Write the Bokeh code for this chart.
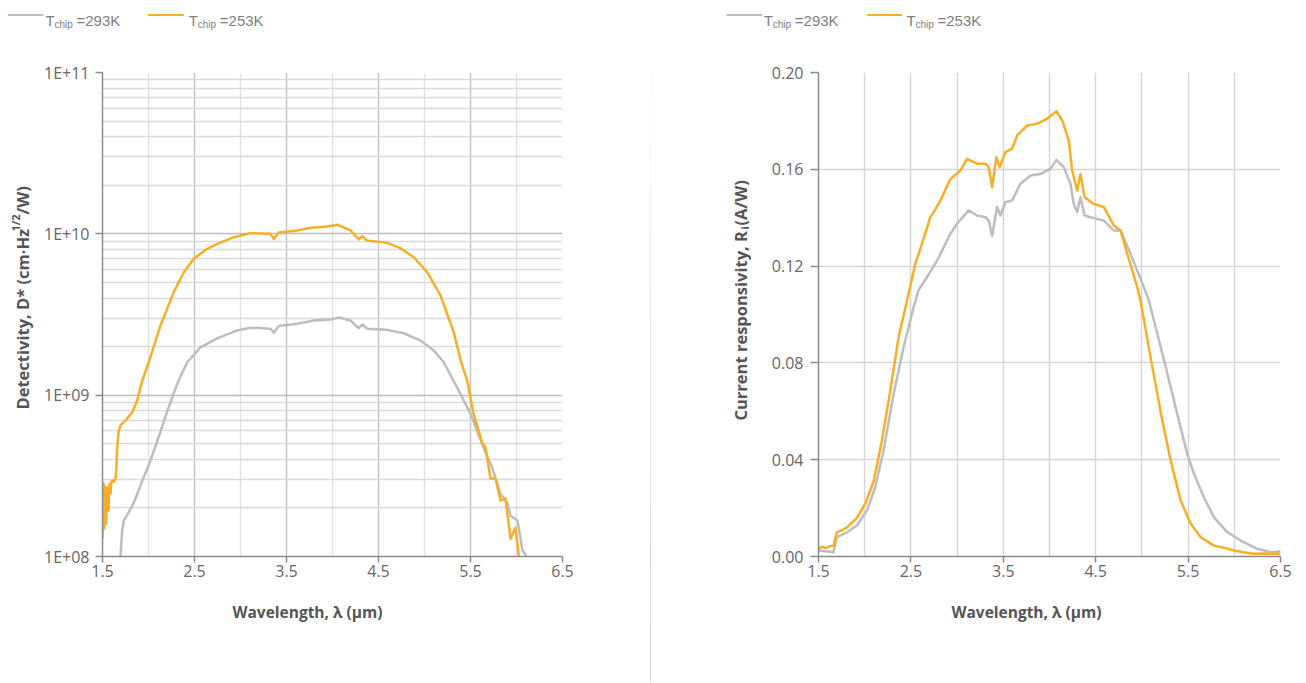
import math
from bokeh.plotting import figure
from bokeh.models import FixedTicker, Div, Range1d
from bokeh.layouts import row, column
from bokeh.embed import file_html
from bokeh.resources import INLINE
from bokeh.core.properties import value

# ---------------- data ----------------
x_ticks = [1.5, 2.5, 3.5, 4.5, 5.5, 6.5]
x_minor = [2.0, 3.0, 4.0, 5.0, 6.0]
d_ticks = [1e8, 1e9, 1e10, 1e11]
d_tick_labels = ["1E+08", "1E+09", "1E+10", "1E+11"]
r_ticks = [0.0, 0.04, 0.08, 0.12, 0.16, 0.20]
r_tick_labels = ["0.00", "0.04", "0.08", "0.12", "0.16", "0.20"]
series_names = ["=293K", "=253K"]
x_title = "Wavelength, λ (µm)"
d_title = ["Detectivity, D* (cm·Hz", "1/2", "/W)"]
r_title = ["Current responsivity, R", "i", " (A/W)"]

# Detectivity, T=293K
wl_d_293 = [1.690, 1.696, 1.714, 1.732, 1.783, 1.837, 1.891, 1.946, 2.022, 2.098, 2.207, 2.326,
            2.421, 2.565, 2.747, 2.964, 3.109, 3.326, 3.362, 3.416, 3.616, 3.797, 3.978, 4.068,
            4.196, 4.286, 4.323, 4.377, 4.595, 4.775, 4.957, 5.101, 5.210, 5.315, 5.500, 5.641,
            5.739, 5.826, 5.902, 5.935, 6.011, 6.065, 6.098, 6.110]
d_293 = [9.0e7, 1.01e8, 1.45e8, 1.67e8, 1.87e8, 2.13e8, 2.56e8, 3.09e8, 3.94e8, 5.24e8, 8.04e8, 1.23e9,
         1.60e9, 1.98e9, 2.25e9, 2.52e9, 2.62e9, 2.58e9, 2.44e9, 2.68e9, 2.77e9, 2.90e9, 2.94e9, 3.03e9,
         2.90e9, 2.60e9, 2.74e9, 2.58e9, 2.54e9, 2.42e9, 2.18e9, 1.89e9, 1.60e9, 1.23e9, 7.69e8, 4.74e8,
         3.51e8, 2.45e8, 2.13e8, 1.79e8, 1.67e8, 1.09e8, 1.03e8, 9.5e7]

# Detectivity, T=253K
wl_d_253 = [1.500, 1.505, 1.511, 1.516, 1.520, 1.527, 1.533, 1.540, 1.551, 1.558, 1.565, 1.575,
            1.587, 1.595, 1.605, 1.620, 1.641, 1.650, 1.660, 1.677, 1.696, 1.730, 1.768, 1.823,
            1.877, 1.932, 2.003, 2.130, 2.275, 2.384, 2.492, 2.638, 2.747, 2.927, 3.109, 3.326,
            3.362, 3.416, 3.616, 3.761, 3.942, 4.051, 4.196, 4.286, 4.323, 4.377, 4.595, 4.739,
            4.884, 5.029, 5.174, 5.318, 5.399, 5.464, 5.533, 5.630, 5.663, 5.717, 5.772, 5.826,
            5.880, 5.935, 5.989, 6.022, 6.030]
d_253 = [1.29e8, 2.6e8, 2.83e8, 1.7e8, 1.49e8, 2.7e8, 2.24e8, 1.6e8, 2.68e8, 2.2e8, 1.93e8, 2.8e8,
         2.45e8, 2.9e8, 2.96e8, 2.9e8, 3.04e8, 3.5e8, 4.74e8, 6.04e8, 6.49e8, 6.8e8, 7.16e8, 7.82e8,
         9.27e8, 1.23e9, 1.60e9, 2.70e9, 4.35e9, 5.78e9, 7.00e9, 8.07e9, 8.67e9, 9.53e9, 1.01e10, 1.00e10,
         9.31e9, 1.02e10, 1.05e10, 1.09e10, 1.11e10, 1.14e10, 1.05e10, 9.25e9, 9.66e9, 9.08e9, 8.79e9, 8.15e9,
         7.16e9, 5.78e9, 4.15e9, 2.45e9, 1.60e9, 1.23e9, 7.69e8, 5.01e8, 4.74e8, 3.04e8, 3.04e8, 2.22e8,
         2.29e8, 1.29e8, 1.51e8, 1.04e8, 8.0e7]

# Current responsivity, T=293K
wl_r_293 = [1.50, 1.58, 1.662, 1.699, 1.808, 1.916, 2.024, 2.114, 2.204, 2.313, 2.421, 2.529,
            2.583, 2.674, 2.783, 2.837, 2.927, 2.999, 3.125, 3.216, 3.306, 3.342, 3.379, 3.433,
            3.469, 3.523, 3.595, 3.685, 3.794, 3.902, 4.010, 4.075, 4.154, 4.227, 4.263, 4.300,
            4.335, 4.379, 4.444, 4.588, 4.696, 4.769, 4.877, 5.021, 5.075, 5.235, 5.400, 5.491,
            5.563, 5.671, 5.780, 5.925, 6.069, 6.250, 6.394, 6.502]
r_293 = [0.0025, 0.0022, 0.0018, 0.0080, 0.0100, 0.0128, 0.0190, 0.0286, 0.0438, 0.0672, 0.0865, 0.1030,
         0.1100, 0.1154, 0.1223, 0.1264, 0.1333, 0.1375, 0.1430, 0.1409, 0.1402, 0.1388, 0.1326, 0.1444,
         0.1409, 0.1464, 0.1471, 0.1540, 0.1574, 0.1581, 0.1602, 0.1639, 0.1609, 0.1540, 0.1457, 0.1423,
         0.1485, 0.1409, 0.1402, 0.1388, 0.1347, 0.1347, 0.1251, 0.1113, 0.1058, 0.0818, 0.0562, 0.0424,
         0.0342, 0.0245, 0.0162, 0.0100, 0.0066, 0.0032, 0.0018, 0.0022]

# Current responsivity, T=253K
wl_r_253 = [1.50, 1.54, 1.58, 1.62, 1.662, 1.699, 1.75, 1.808, 1.916, 2.006, 2.096, 2.187,
            2.277, 2.367, 2.458, 2.548, 2.620, 2.710, 2.746, 2.819, 2.927, 3.036, 3.108, 3.216,
            3.306, 3.342, 3.379, 3.425, 3.461, 3.523, 3.595, 3.650, 3.758, 3.866, 3.975, 4.075,
            4.137, 4.209, 4.245, 4.300, 4.335, 4.379, 4.479, 4.588, 4.696, 4.769, 4.841, 4.950,
            4.985, 5.09, 5.221, 5.311, 5.420, 5.528, 5.636, 5.780, 5.90, 5.996, 6.10, 6.213,
            6.35, 6.502]
r_253 = [0.0032, 0.0040, 0.0035, 0.0042, 0.0045, 0.0100, 0.0108, 0.0120, 0.0160, 0.0218, 0.0310, 0.0480,
         0.0686, 0.0906, 0.1058, 0.1210, 0.1292, 0.1402, 0.1423, 0.1471, 0.1560, 0.1595, 0.1643, 0.1623,
         0.1623, 0.1609, 0.1526, 0.1650, 0.1609, 0.1671, 0.1685, 0.1740, 0.1781, 0.1788, 0.1809, 0.1840,
         0.1802, 0.1719, 0.1595, 0.1512, 0.1581, 0.1485, 0.1457, 0.1444, 0.1368, 0.1347, 0.1251, 0.1113,
         0.1058, 0.0830, 0.0562, 0.0397, 0.0231, 0.0135, 0.0080, 0.0045, 0.0035, 0.0025, 0.0018, 0.0011,
         0.0012, 0.0011]

# ---------------- style / layout constants ----------------
GRAY = "#BDBDBD"
ORANGE = "#F9AE27"
AXIS = "#8A8A8A"
TICK_TXT = "#666666"
TITLE_TXT = "#555555"
FONT = "Open Sans"
LEG_FONT = "Liberation Sans"
LEG_TXT = "#808080"
TOP_H = 30            # legend strip height (page y 0..30)
FRAME_TOP = 72        # page y of plot frame top
FRAME_BOT = 556       # page y of plot frame bottom
PLOT_BOT_BORDER = 30  # space for x tick labels below frame
BOT_Y0 = FRAME_BOT + PLOT_BOT_BORDER
BOTTOM_Y = 682


def strip(x0, x1, y0, y1, top=0, bottom=0):
    """Blank figure whose data units equal page pixels (y grows downward)."""
    h = (y1 - y0)
    p = figure(width=x1 - x0, frame_height=h, x_range=Range1d(x0, x1), y_range=Range1d(y1, y0),
               x_axis_location=None, y_axis_location=None, output_backend="svg",
               toolbar_location=None, min_border=0, min_border_left=0, min_border_right=0,
               min_border_top=top, min_border_bottom=bottom)
    p.outline_line_color = None
    p.grid.visible = False
    return p


def add_legend(p, items):
    for (lx0, lx1, tx, color, name) in items:
        p.segment(x0=[lx0], y0=[14.5], x1=[lx1], y1=[14.5], line_color=color, line_width=2)
        p.text(x=[tx], y=[19.5], text=["T"], text_font=value(LEG_FONT), text_font_size=value("15px"),
               text_color=LEG_TXT, text_baseline="alphabetic", text_align="left")
        p.text(x=[tx + 9], y=[24], text=["chip"], text_font=value(LEG_FONT), text_font_size=value("10px"),
               text_color=LEG_TXT, text_baseline="alphabetic", text_align="left")
        p.text(x=[tx + 31], y=[19.5], text=[name], text_font=value(LEG_FONT), text_font_size=value("15px"),
               text_color=LEG_TXT, text_baseline="alphabetic", text_align="left")


def add_vtitle(p, pieces):
    # pieces: (x_baseline, y_start, text, size) in page px
    for (bx, ys, txt, size) in pieces:
        p.text(x=[bx], y=[ys], text=[txt], angle=math.pi / 2, text_font=value(FONT),
               text_font_style="bold", text_font_size=value(size), text_color=TITLE_TXT,
               text_baseline="alphabetic", text_align="left")


def add_xtitle(p, cx):
    p.text(x=[cx], y=[611], text=[x_title], text_font=value(FONT), text_font_style="bold",
           text_font_size=value("15.5px"), text_color=TITLE_TXT,
           text_baseline="middle", text_align="center")


def style_axes(p):
    for ax in (p.xaxis[0], p.yaxis[0]):
        ax.axis_line_color = AXIS
        ax.axis_line_width = 1.5
        ax.major_tick_line_color = AXIS
        ax.major_tick_line_width = 1.5
        ax.major_tick_in = 0
        ax.minor_tick_line_color = None
        ax.major_label_text_font = FONT
        ax.major_label_text_font_size = "16px"
        ax.major_label_text_color = TICK_TXT
    p.xaxis[0].major_tick_out = 6
    p.xaxis[0].major_label_standoff = 2
    p.yaxis[0].major_tick_out = 7
    p.yaxis[0].major_label_standoff = 6
    p.xaxis[0].ticker = FixedTicker(ticks=x_ticks, minor_ticks=x_minor)


# ================= left half (page x 0..650) =================
YT1_W = 40
p1 = figure(frame_width=460, frame_height=FRAME_BOT - FRAME_TOP, x_range=(1.5, 6.5), y_range=(1e8, 1e11),
            y_axis_type="log", output_backend="svg", toolbar_location=None,
            min_border_left=102 - YT1_W, min_border_right=88, min_border_top=FRAME_TOP - TOP_H,
            min_border_bottom=PLOT_BOT_BORDER)
p1.outline_line_color = None
style_axes(p1)
p1.yaxis[0].ticker = FixedTicker(
    ticks=d_ticks,
    minor_ticks=[m * 10 ** e for e in range(8, 11) for m in range(2, 10)])
p1.yaxis[0].major_label_overrides = {t: lab for t, lab in zip(d_ticks, d_tick_labels)}
p1.xgrid.grid_line_color = "#C4C4C4"
p1.xgrid.grid_line_width = 1.5
p1.xgrid.minor_grid_line_color = "#E2E2E2"
p1.xgrid.minor_grid_line_width = 1.5
p1.ygrid.grid_line_color = "#BDBDBD"
p1.ygrid.grid_line_width = 1.5
p1.ygrid.minor_grid_line_color = "#DADADA"
p1.ygrid.minor_grid_line_width = 1.3

p1.line(wl_d_293, d_293, line_color=GRAY, line_width=2.5, line_join="round")
p1.line(wl_d_253, d_253, line_color=ORANGE, line_width=2.5, line_join="round")

leg1 = strip(0, 650, 0, TOP_H)
add_legend(leg1, [(7.3, 42.7, 45, GRAY, series_names[0]),
                  (147.7, 183.3, 188.3, ORANGE, series_names[1])])

# title strip: frame identical in height/position to the plot frame
yt1 = strip(0, YT1_W, FRAME_TOP, FRAME_BOT, top=FRAME_TOP - TOP_H, bottom=PLOT_BOT_BORDER)
add_vtitle(yt1, [(21.5, 409, d_title[0], "16.5px"),
                 (14.5, 231, d_title[1], "11px"),
                 (21.5, 214, d_title[2], "16.5px")])

bot1 = strip(0, 650, BOT_Y0, BOTTOM_Y)
add_xtitle(bot1, 307)

left = column(leg1, row(yt1, p1), bot1)

# ================= right half (page x 651..1300) =================
RX0 = 651
YT2_W = 100
p2 = figure(frame_width=462, frame_height=FRAME_BOT - FRAME_TOP, x_range=(1.5, 6.5), y_range=(0.0, 0.20),
            output_backend="svg", toolbar_location=None,
            min_border_left=818 - RX0 - YT2_W, min_border_right=20, min_border_top=FRAME_TOP - TOP_H,
            min_border_bottom=PLOT_BOT_BORDER)
p2.outline_line_color = None
style_axes(p2)
p2.yaxis[0].ticker = FixedTicker(ticks=r_ticks)
p2.yaxis[0].major_label_overrides = {t: lab for t, lab in zip(r_ticks, r_tick_labels)}
p2.yaxis[0].major_tick_out = 8
p2.yaxis[0].major_label_standoff = 7
for g in (p2.xgrid, p2.ygrid):
    g.grid_line_color = "#D6D6D6"
    g.grid_line_width = 1.5
p2.xgrid.minor_grid_line_color = "#D6D6D6"
p2.xgrid.minor_grid_line_width = 1.5

p2.line(wl_r_293, r_293, line_color=GRAY, line_width=2.5, line_join="round")
p2.line(wl_r_253, r_253, line_color=ORANGE, line_width=2.5, line_join="round")

leg2 = strip(RX0, 1300, 0, TOP_H)
add_legend(leg2, [(726, 761.7, 763.3, GRAY, series_names[0]),
                  (866.7, 901.7, 906, ORANGE, series_names[1])])

yt2 = strip(RX0, RX0 + YT2_W, FRAME_TOP, FRAME_BOT, top=FRAME_TOP - TOP_H, bottom=PLOT_BOT_BORDER)
add_vtitle(yt2, [(740, 420, r_title[0], "16.5px"),
                 (743.5, 229, r_title[1], "11px"),
                 (740, 225, r_title[2], "16.5px")])

bot2 = strip(RX0, 1300, BOT_Y0, BOTTOM_Y)
add_xtitle(bot2, 1026)

right = column(leg2, row(yt2, p2), bot2)

sep = Div(text="", width=1, height=BOTTOM_Y - 70, margin=(70, 0, 0, 0),
          styles={"background": "linear-gradient(to bottom, #fbfbfb, #d4d4d4)"})

layout = row(left, sep, right)
open("out.html", "w").write(file_html(layout, INLINE))
